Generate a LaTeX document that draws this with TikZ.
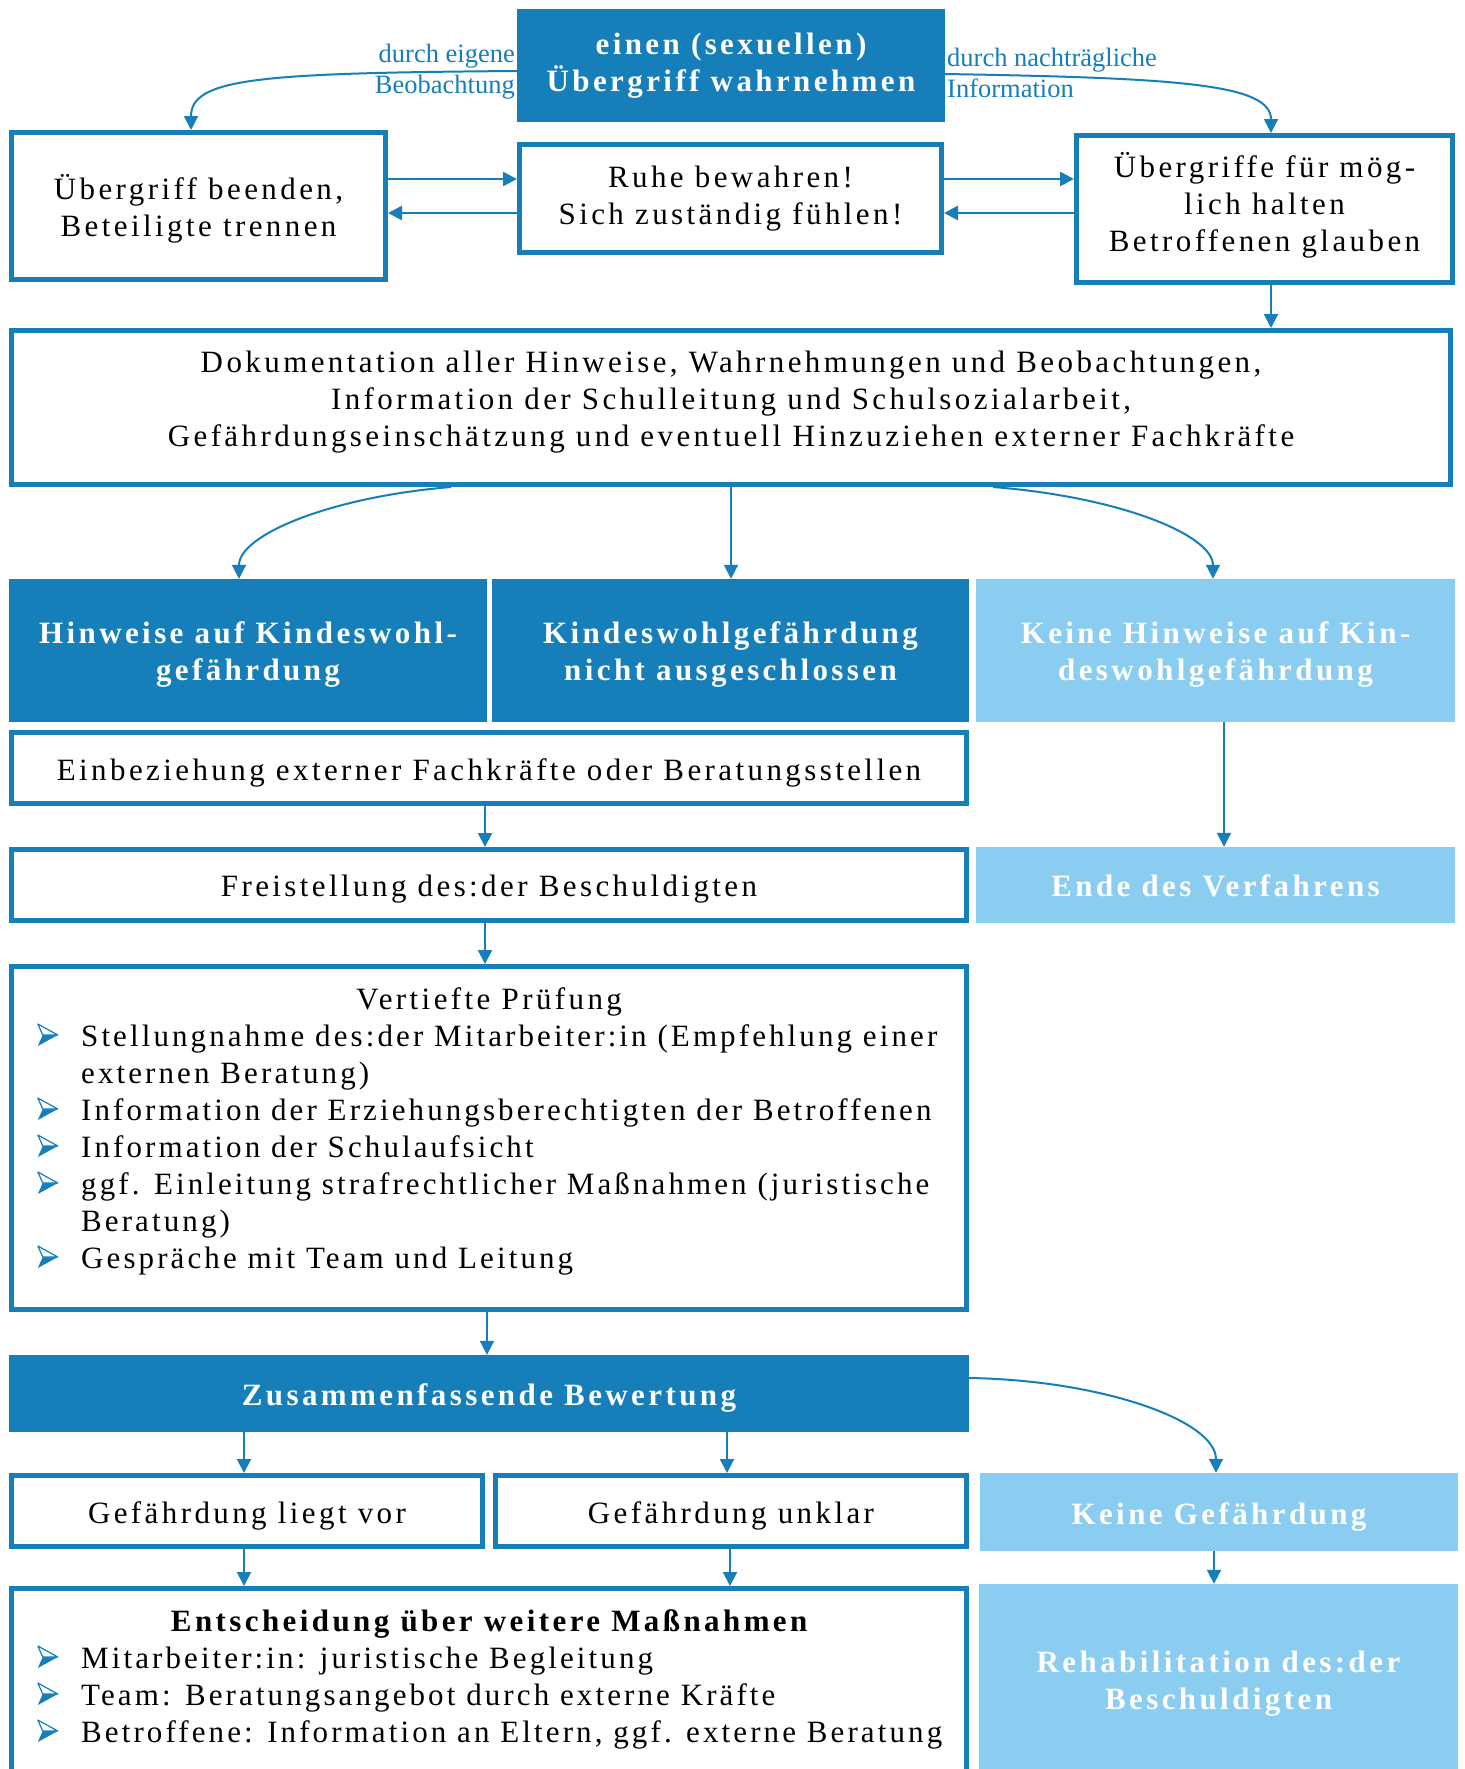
\documentclass[tikz,border=0pt]{standalone}
\usepackage{fontspec}
\setmainfont{Liberation Serif}[LetterSpace=11]
\newfontfamily\lblfont{Liberation Serif}
\newfontfamily\listfont{Liberation Serif}[LetterSpace=10]
\usetikzlibrary{arrows.meta}
\definecolor{dblue}{RGB}{22,126,185}
\definecolor{lblue}{RGB}{138,205,240}
\newcommand\bul{\tikz[baseline=0pt,x=1pt,y=1pt]{\fill[dblue] (0,0) -- (20,11) -- (5,11) -- cycle; \draw[dblue,line width=1.2pt,fill=white,line join=round] (0,22) -- (20,11) -- (5,11) -- cycle;}}
\newcommand\itm[1]{\par\noindent\hangindent=44pt\hangafter=1\makebox[44pt][l]{\bul}{\listfont #1}}
\tikzset{
  wbox/.style={draw=dblue, line width=5pt, fill=white, inner sep=0pt},
  dbox/.style={fill=dblue, inner sep=0pt},
  lbox/.style={fill=lblue, inner sep=0pt},
  wt/.style={align=center, font=\fontsize{31}{37}\selectfont, inner sep=0pt},
  bt/.style={align=center, text=white, font=\bfseries\fontsize{31}{37}\selectfont, inner sep=0pt},
  arr/.style={draw=dblue, line width=2pt, -{Triangle[length=14pt,width=14pt]}},
  harr/.style={arr, line width=2.5pt},
  lbl/.style={text=dblue, font=\lblfont\fontsize{26.5}{31}\selectfont, inner sep=0pt},
  txt/.style={inner sep=0pt, font=\fontsize{31}{37}\selectfont}
}
\begin{document}
\begin{tikzpicture}[x=1pt,y=-1pt]
\clip (0,0) rectangle (1464,1769);
\fill[white] (0,0) rectangle (1464,1769);
% boxes
\node[dbox, minimum width=428pt, minimum height=113pt] (T) at (731,65.5) {};
\node[bt] (Tt) at (731,65.5) {einen (sexuellen)\\Übergriff wahrnehmen};
\node[wbox, minimum width=374pt, minimum height=147pt] (L) at (198.5,206) {};
\node[wt] (Lt) at (198.5,209) {Übergriff beenden,\\Beteiligte trennen};
\node[wbox, minimum width=422pt, minimum height=108pt] (M) at (730.5,198.5) {};
\node[wt] (Mt) at (730.5,198.5) {Ruhe bewahren!\\Sich zuständig fühlen!};
\node[wbox, minimum width=376pt, minimum height=147pt] (R) at (1264.5,209) {};
\node[wt] (Rt) at (1264.5,205.5) {Übergriffe für mög-\\lich halten\\Betroffenen glauben};
\node[wbox, minimum width=1439pt, minimum height=154pt] (D) at (731,407.5) {};
\node[wt] (Dt) at (731,402.5) {Dokumentation aller Hinweise, Wahrnehmungen und Beobachtungen,\\Information der Schulleitung und Schulsozialarbeit,\\Gefährdungseinschätzung und eventuell Hinzuziehen externer Fachkräfte};
\node[dbox, minimum width=478pt, minimum height=143pt] (H1) at (248,650.5) {};
\node[bt] (H1t) at (248,654) {Hinweise auf Kindeswohl-\\gefährdung};
\node[dbox, minimum width=477pt, minimum height=143pt] (H2) at (730.5,650.5) {};
\node[bt] (H2t) at (730.5,654) {Kindeswohlgefährdung\\nicht ausgeschlossen};
\node[lbox, minimum width=479pt, minimum height=143pt] (H3) at (1215.5,650.5) {};
\node[bt] (H3t) at (1215.5,654) {Keine Hinweise auf Kin-\\deswohlgefährdung};
\node[wbox, minimum width=955pt, minimum height=71pt] (E) at (489,768) {};
\node[wt] (Et) at (489,772.5) {Einbeziehung externer Fachkräfte oder Beratungsstellen};
\node[wbox, minimum width=955pt, minimum height=71pt] (F) at (489,885) {};
\node[wt] (Ft) at (489,889.5) {Freistellung des:der Beschuldigten};
\node[lbox, minimum width=479pt, minimum height=76pt] (EV) at (1215.5,885) {};
\node[bt] (EVt) at (1215.5,886) {Ende des Verfahrens};
\node[wbox, minimum width=955pt, minimum height=343pt] (V) at (489,1138) {};
\node[txt, anchor=base west] (Vt) at (37,1009) {\begin{minipage}[t]{1000pt}\parskip=0pt\raggedright
\makebox[904pt]{Vertiefte Prüfung}
\itm{Stellungnahme des:der Mitarbeiter:in (Empfehlung einer\newline externen Beratung)}
\itm{Information der Erziehungsberechtigten der Betroffenen}
\itm{Information der Schulaufsicht}
\itm{ggf. Einleitung strafrechtlicher Maßnahmen (juristische\newline Beratung)}
\itm{Gespräche mit Team und Leitung}
\end{minipage}};
\node[dbox, minimum width=960pt, minimum height=77pt] (Z) at (489,1393.5) {};
\node[bt] (Zt) at (489,1398) {Zusammenfassende Bewertung};
\node[wbox, minimum width=471pt, minimum height=71pt] (G1) at (247,1511) {};
\node[wt] (G1t) at (247,1515.5) {Gefährdung liegt vor};
\node[wbox, minimum width=471pt, minimum height=71pt] (G2) at (731,1511) {};
\node[wt] (G2t) at (731,1515.5) {Gefährdung unklar};
\node[lbox, minimum width=478pt, minimum height=78pt] (G3) at (1219,1512) {};
\node[bt] (G3t) at (1219,1516.5) {Keine Gefährdung};
\node[wbox, minimum width=955pt, minimum height=220pt] (ES) at (489,1698.5) {};
\node[txt, anchor=base west] (ESt) at (37,1631) {\begin{minipage}[t]{1000pt}\parskip=0pt\raggedright
\makebox[904pt]{\bfseries Entscheidung über weitere Maßnahmen}
\itm{Mitarbeiter:in: juristische Begleitung}
\itm{Team: Beratungsangebot durch externe Kräfte}
\itm{Betroffene: Information an Eltern, ggf. externe Beratung}
\end{minipage}};
\node[lbox, minimum width=479pt, minimum height=200pt] (RH) at (1218.5,1684) {};
\node[bt] (RHt) at (1218.5,1684) {Rehabilitation des:der\\Beschuldigten};
% labels
\node[lbl, anchor=east, align=right] (la) at (515,71.5) {durch eigene\\Beobachtung};
\node[lbl, anchor=west, align=left] (lb) at (947,72.5) {durch nachträgliche\\Information};
% connectors
\draw[arr] (T.west |- 0,71) .. controls (260,73) and (191,78) .. (L.north -| 191,0);
\draw[arr] (T.east |- 0,74) .. controls (1180,78) and (1271,84) .. (R.north -| 1271,0);
\draw[harr] (L.east |- 0,179) -- (M.west |- 0,179);
\draw[harr] (M.west |- 0,213) -- (L.east |- 0,213);
\draw[harr] (M.east |- 0,179) -- (R.west |- 0,179);
\draw[harr] (R.west |- 0,213) -- (M.east |- 0,213);
\draw[arr] (R.south -| 1271,0) -- (D.north -| 1271,0);
\draw[arr] (D.south -| 451,0) .. controls (330,497) and (239,535) .. (H1.north -| 239,0);
\draw[arr] (D.south -| 731,0) -- (H2.north -| 731,0);
\draw[arr] (D.south -| 993,0) .. controls (1120,497) and (1213,535) .. (H3.north -| 1213,0);
\draw[arr] (H3.south -| 1224,0) -- (EV.north -| 1224,0);
\draw[arr] (E.south -| 485,0) -- (F.north -| 485,0);
\draw[arr] (F.south -| 485,0) -- (V.north -| 485,0);
\draw[arr] (V.south -| 487,0) -- (Z.north -| 487,0);
\draw[arr] (Z.south -| 244,0) -- (G1.north -| 244,0);
\draw[arr] (Z.south -| 727,0) -- (G2.north -| 727,0);
\draw[arr] (Z.east |- 0,1378) .. controls (1100,1380) and (1216,1420) .. (G3.north -| 1216,0);
\draw[arr] (G1.south -| 244,0) -- (ES.north -| 244,0);
\draw[arr] (G2.south -| 730,0) -- (ES.north -| 730,0);
\draw[arr] (G3.south -| 1214,0) -- (RH.north -| 1214,0);
\end{tikzpicture}
\end{document}
